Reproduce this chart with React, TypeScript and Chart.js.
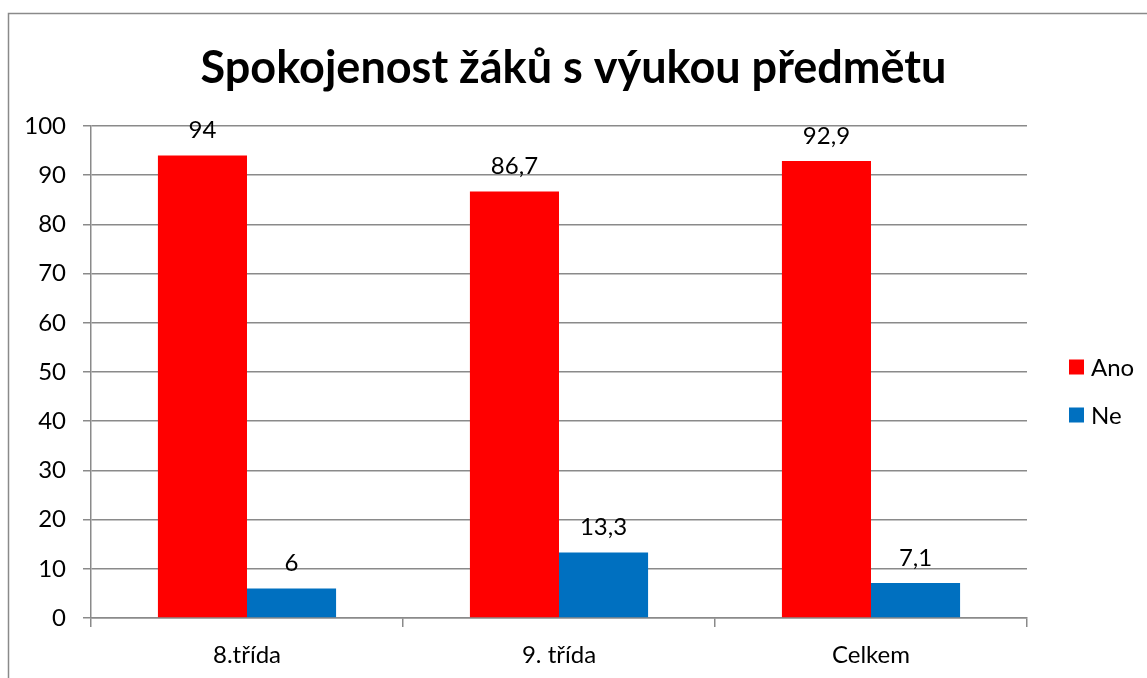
import React, { useEffect, useRef } from "react";
import { Chart, registerables } from "chart.js";

Chart.register(...registerables);

const categories = ["8.třída", "9. třída", "Celkem"];
const anoValues = [94, 86.7, 92.9];
const neValues = [6, 13.3, 7.1];
const seriesNames = ["Ano", "Ne"];
const titleText = "Spokojenost žáků s výukou předmětu";

const FONT = "Lato, 'Noto Sans', sans-serif";
const GRID = "#8a8a8a";

const fmt = (v: number) => String(v).replace(".", ",");

const bgPlugin = {
  id: "bgBorder",
  beforeDraw(chart: any) {
    const ctx = chart.ctx;
    ctx.save();
    ctx.fillStyle = "#ffffff";
    ctx.fillRect(0, 0, chart.width, chart.height);
    ctx.strokeStyle = GRID;
    ctx.lineWidth = 1.5;
    ctx.strokeRect(8.5, 13.5, 1300, 800);
    ctx.restore();
  },
};

const labelsPlugin = {
  id: "valueLabels",
  afterDatasetsDraw(chart: any) {
    const ctx = chart.ctx;
    ctx.save();
    ctx.font = `24px ${FONT}`;
    ctx.fillStyle = "#000";
    ctx.textAlign = "center";
    ctx.textBaseline = "middle";
    chart.data.datasets.forEach((ds: any, i: number) => {
      const meta = chart.getDatasetMeta(i);
      meta.data.forEach((bar: any, j: number) => {
        ctx.fillText(fmt(ds.data[j]), bar.x, bar.y - 25);
      });
    });
    ctx.restore();
  },
};

const legendPlugin = {
  id: "customLegend",
  afterDraw(chart: any) {
    const ctx = chart.ctx;
    ctx.save();
    ctx.font = `24px ${FONT}`;
    ctx.textAlign = "left";
    ctx.textBaseline = "middle";
    const ys = [367, 415];
    chart.data.datasets.forEach((ds: any, i: number) => {
      const y = ys[i];
      ctx.fillStyle = ds.backgroundColor;
      ctx.fillRect(1069, y - 7.5, 15, 15);
      ctx.fillStyle = "#000";
      ctx.fillText(ds.label, 1091, y + 1);
    });
    ctx.restore();
  },
};

export default function App() {
  const ref = useRef<HTMLCanvasElement | null>(null);
  useEffect(() => {
    if (!ref.current) return;
    const chart = new Chart(ref.current, {
      type: "bar",
      data: {
        labels: categories,
        datasets: [
          {
            label: seriesNames[0],
            data: anoValues,
            backgroundColor: "#FF0000",
            categoryPercentage: 0.571,
            barPercentage: 1,
          },
          {
            label: seriesNames[1],
            data: neValues,
            backgroundColor: "#0070C0",
            categoryPercentage: 0.571,
            barPercentage: 1,
          },
        ],
      },
      plugins: [bgPlugin, labelsPlugin, legendPlugin],
      options: {
        responsive: false,
        animation: false,
        layout: { padding: 0 },
        plugins: {
          legend: { display: false },
          tooltip: { enabled: false },
          title: {
            display: true,
            text: titleText,
            color: "#000",
            font: { family: FONT, size: 45, weight: "bold" },
            padding: { top: 41, bottom: 31 },
          },
        },
        scales: {
          x: {
            grid: {
              offset: true,
              drawOnChartArea: false,
              drawTicks: true,
              tickLength: 9,
              color: GRID,
              lineWidth: 1.5,
            },
            border: { display: true, color: GRID, width: 1.5 },
            ticks: {
              color: "#000",
              font: { family: FONT, size: 24 },
              padding: 14,
            },
            afterFit: (s: any) => {
              s.height = 60;
            },
          },
          y: {
            min: 0,
            max: 100,
            ticks: {
              stepSize: 10,
              color: "#000",
              font: { family: FONT, size: 24 },
              padding: 17,
            },
            grid: {
              color: GRID,
              lineWidth: 1.5,
              drawTicks: true,
              tickLength: 8,
            },
            border: { display: true, color: GRID, width: 1.5 },
            afterFit: (s: any) => {
              s.width = 91;
            },
          },
          legendSpace: {
            position: "right",
            display: true,
            grid: { display: false },
            border: { display: false },
            ticks: { display: false },
            afterFit: (s: any) => {
              s.width = 120;
            },
          },
        },
      },
    });
    return () => chart.destroy();
  }, []);
  return (
    <div style={{ position: "absolute", left: 0, top: 0, width: 1147, height: 678 }}>
      <canvas ref={ref} width={1147} height={678} />
    </div>
  );
}
